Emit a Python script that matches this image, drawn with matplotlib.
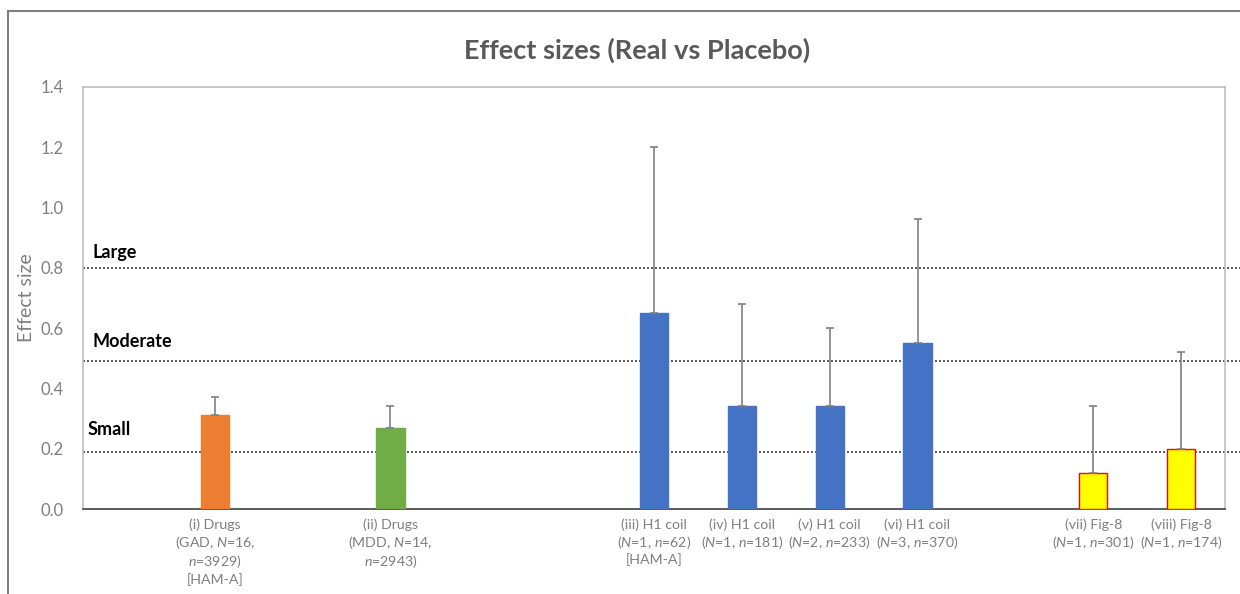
import matplotlib
matplotlib.use("Agg")
import matplotlib.pyplot as plt
from matplotlib.lines import Line2D

plt.rcParams['font.family'] = ['Lato', 'DejaVu Sans']
plt.rcParams['mathtext.fontset'] = 'custom'
plt.rcParams['mathtext.rm'] = 'Lato'
plt.rcParams['mathtext.it'] = 'Lato:italic'

# ---- data ----
labels = [
    "(i) Drugs\n(GAD, $\\mathit{N}$=16,\n$\\mathit{n}$=3929)\n[HAM-A]",
    "(ii) Drugs\n(MDD, $\\mathit{N}$=14,\n$\\mathit{n}$=2943)",
    "(iii) H1 coil\n($\\mathit{N}$=1, $\\mathit{n}$=62)\n[HAM-A]",
    "(iv) H1 coil\n($\\mathit{N}$=1, $\\mathit{n}$=181)",
    "(v) H1 coil\n($\\mathit{N}$=2, $\\mathit{n}$=233)",
    "(vi) H1 coil\n($\\mathit{N}$=3, $\\mathit{n}$=370)",
    "(vii) Fig-8\n($\\mathit{N}$=1, $\\mathit{n}$=301)",
    "(viii) Fig-8\n($\\mathit{N}$=1, $\\mathit{n}$=174)",
]
effect = [0.31, 0.27, 0.65, 0.34, 0.34, 0.55, 0.12, 0.20]
err_top = [0.37, 0.34, 1.20, 0.68, 0.60, 0.96, 0.34, 0.52]
thresholds = [0.80, 0.49, 0.19]
threshold_names = ["Large", "Moderate", "Small"]
threshold_label_y = [0.85, 0.555, 0.265]
yticks = [0.0, 0.2, 0.4, 0.6, 0.8, 1.0, 1.2, 1.4]

# layout (category slots incl. blanks)
positions = [1, 3, 6, 7, 8, 9, 11, 12]
colors = ['#ED7D31', '#70AD47', '#4472C4', '#4472C4', '#4472C4', '#4472C4', '#FFFF00', '#FFFF00']
edges = ['#ED7D31', '#70AD47', '#4472C4', '#4472C4', '#4472C4', '#4472C4', '#FF0000', '#FF0000']

fig = plt.figure(figsize=(12.4, 5.94), dpi=100)
ax_w = (1225 - 83)
ax = fig.add_axes([83/1240, 1-509/594, ax_w/1240, (509-86.7)/594])

yerr_up = [t - v for t, v in zip(err_top, effect)]
yerr = [[0]*len(effect), yerr_up]
ax.bar(positions, effect, width=0.32, color=colors, edgecolor=edges, linewidth=1.0, zorder=3)
ax.errorbar(positions, effect, yerr=yerr, fmt='none', ecolor='#808080', elinewidth=1.2,
            capsize=3, capthick=1.2, zorder=4)

ax.set_xlim(-0.5, 12.5)
ax.set_ylim(0, 1.4)
ax.set_yticks(yticks)
ax.set_yticklabels([f"{t:.1f}" for t in yticks])
ax.set_xticks(positions)
ax.tick_params(axis='both', length=0, colors='#7f7f7f')
ax.tick_params(axis='y', pad=14, labelsize=12)
ax.tick_params(axis='x', pad=7)
ax.set_xticklabels(labels, fontsize=10.2, color='#7f7f7f', linespacing=1.2)

for s in ['left', 'top', 'right']:
    ax.spines[s].set_color('#bfbfbf')
    ax.spines[s].set_linewidth(1.2)
ax.spines['bottom'].set_color('#404040')
ax.spines['bottom'].set_linewidth(1.2)

ax.set_ylabel("Effect size", fontsize=14, color='#7f7f7f', labelpad=4)

# threshold lines extend to figure right edge
for th, nm, ty, dx in zip(thresholds, threshold_names, threshold_label_y, [10, 9, 5]):
    ax.axhline(th, color='#404040', linestyle=(0, (1.2, 1.2)), linewidth=1.2, zorder=2,
               xmin=0, xmax=(1240-83)/ax_w, clip_on=False)
    ax.text(dx/ax_w, ty/1.4, nm, transform=ax.transAxes, fontsize=13, fontweight='bold',
            color='black', va='center', ha='left')

fig.text(637/1240, 1-50/594, "Effect sizes (Real vs Placebo)", fontsize=19.5, fontweight='bold',
         color='#595959', ha='center', va='center')

# outer chart frame (top and left)
fig.add_artist(Line2D([8/1240, 8/1240], [0, 1-11/594], transform=fig.transFigure, color='#808080', lw=1.5))
fig.add_artist(Line2D([8/1240, 1], [1-11/594, 1-11/594], transform=fig.transFigure, color='#808080', lw=1.5))

fig.savefig("out.png", dpi=100)
